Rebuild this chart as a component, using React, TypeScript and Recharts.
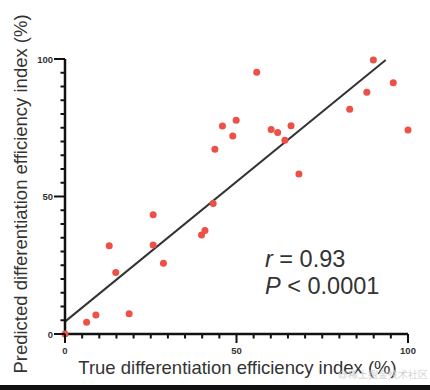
import { ScatterChart, Scatter, XAxis, YAxis, ReferenceLine } from "recharts";

// True vs predicted differentiation efficiency index (%)
const trueIndex = [0, 6.3, 9, 12.9, 14.8, 18.7, 25.7, 25.7, 28.7, 39.8, 40.8, 43.2, 43.7, 45.9, 48.9, 49.9, 55.9, 60.1, 62, 64.1, 65.9, 68.2, 83, 88, 89.9, 95.7, 100];
const predictedIndex = [0, 4.3, 6.9, 32.1, 22.4, 7.4, 43.4, 32.4, 25.7, 36, 37.6, 47.5, 67.2, 75.6, 72, 77.7, 95.2, 74.4, 73.3, 70.5, 75.7, 58.2, 81.7, 87.9, 99.6, 91.4, 74.2];

// regression line end points
const fitX = [0, 93.5];
const fitY = [4.5, 99.6];

const axisTicks = [0, 5, 10, 15, 20, 25, 30, 35, 40, 45, 50, 55, 60, 65, 70, 75, 80, 85, 90, 95, 100];
const labelledTicks = [0, 50, 100];

const points = trueIndex.map((x, i) => ({ x, y: predictedIndex[i] }));

const FONT = "'Liberation Sans', Arial, Helvetica, sans-serif";
const RED = "#EC5046";

function XTick({ x, y, payload }: any) {
    const major = labelledTicks.includes(payload.value);
    return (
        <g>
            <line x1={x} x2={x} y1={y} y2={y + (major ? 9 : 4.5)} stroke="#111" strokeWidth={2} />
            {major && (
                <text x={x} y={y + 20} textAnchor="middle" fontSize={9.5} fontWeight="bold" fill="#333" fontFamily={FONT}>
                    {payload.value}
                </text>
            )}
        </g>
    );
}

function YTick({ x, y, payload }: any) {
    const major = labelledTicks.includes(payload.value);
    return (
        <g>
            <line x1={x} x2={x - (major ? 11 : 4.5)} y1={y} y2={y} stroke="#111" strokeWidth={2} />
            {major && (
                <text x={x - 12} y={y + 3.5} textAnchor="end" fontSize={9.5} fontWeight="bold" fill="#333" fontFamily={FONT}>
                    {payload.value}
                </text>
            )}
        </g>
    );
}

export default function App() {
    return (
        <div style={{ position: "absolute", left: 0, top: 0, width: 430, height: 390, background: "#fff", overflow: "hidden" }}>
            <ScatterChart width={430} height={390} margin={{ top: 59, right: 22, bottom: 0, left: 0 }}>
                <XAxis
                    type="number"
                    dataKey="x"
                    domain={[0, 100]}
                    ticks={axisTicks}
                    height={56}
                    tickSize={0}
                    tickMargin={0}
                    tick={<XTick />}
                    axisLine={{ stroke: "#111", strokeWidth: 2.5 }}
                    interval={0}
                />
                <YAxis
                    type="number"
                    dataKey="y"
                    domain={[0, 100]}
                    ticks={axisTicks}
                    width={65}
                    tickSize={0}
                    tickMargin={0}
                    tick={<YTick />}
                    axisLine={{ stroke: "#111", strokeWidth: 2.5 }}
                    interval={0}
                />
                <ReferenceLine
                    segment={[{ x: fitX[0], y: fitY[0] }, { x: fitX[1], y: fitY[1] }]}
                    stroke="#333"
                    strokeWidth={2}
                />
                <Scatter
                    data={points}
                    isAnimationActive={false}
                    shape={(p: any) => <circle cx={p.cx} cy={p.cy} r={3.5} fill={RED} />}
                />
            </ScatterChart>
            <svg width={430} height={390} style={{ position: "absolute", left: 0, top: 0, pointerEvents: "none" }}>
                <text
                    x={20}
                    y={194}
                    transform="rotate(-90 20 194)"
                    textAnchor="middle"
                    dominantBaseline="central"
                    fontSize={18.5}
                    fill="#333"
                    fontFamily={FONT}
                >
                    Predicted differentiation efficiency index (%)
                </text>
                <text x={237.5} y={374} textAnchor="middle" fontSize={18.5} fill="#333" fontFamily={FONT}>
                    True differentiation efficiency index (%)
                </text>
                <text x={265} y={267} fontSize={23.5} fill="#333" fontFamily={FONT}>
                    <tspan fontStyle="italic">r</tspan> = 0.93
                </text>
                <text x={265} y={294} fontSize={23.5} fill="#333" fontFamily={FONT}>
                    <tspan fontStyle="italic">P</tspan> &lt; 0.0001
                </text>
                <text x={338} y={378} fontSize={9.5} fill="#cfcfcf" fontFamily={FONT}>
                    @稀土掘金技术社区
                </text>
                <rect x={0} y={385} width={430} height={5} fill="#111" />
            </svg>
        </div>
    );
}
